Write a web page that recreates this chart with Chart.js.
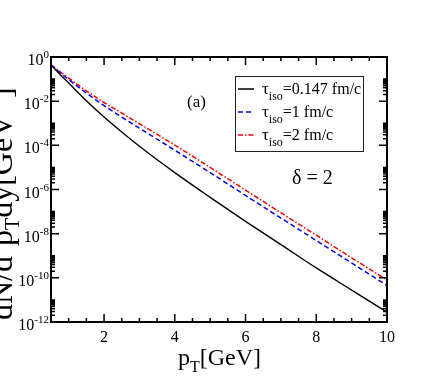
<!DOCTYPE html>
<html>
<head>
<meta charset="utf-8">
<script src="https://cdn.jsdelivr.net/npm/chart.js@4.4.0/dist/chart.umd.min.js"></script>
<style>
  html, body { margin: 0; padding: 0; background: #fff; }
  canvas { display: block; }
</style>
</head>
<body>
<canvas id="spectrum" width="436" height="382"></canvas>
<script>
var pT = [0.5, 0.75, 1, 1.5, 2, 2.5, 3, 4, 5, 6, 7, 8, 9, 10];
var tau0147 = [4.4e-1, 1.66e-1, 6.6e-2, 1.05e-2, 1.9e-3, 4.0e-4, 9.1e-5, 5.8e-6, 4.4e-7, 3.6e-8, 3.2e-9, 2.8e-10, 2.8e-11, 2.8e-12];
var tau1 = [4.4e-1, 2.0e-1, 9.5e-2, 2.34e-2, 6.3e-3, 1.9e-3, 6.0e-4, 6.0e-5, 5.8e-6, 5.4e-7, 5.1e-8, 4.9e-9, 4.7e-10, 4.5e-11];
var tau2 = [4.4e-1, 2.2e-1, 1.1e-1, 2.95e-2, 8.7e-3, 2.9e-3, 9.5e-4, 1.02e-4, 1.0e-5, 9.3e-7, 8.9e-8, 8.5e-9, 8.1e-10, 7.9e-11];
var legendValues = ['=0.147 fm/c', '=1 fm/c', '=2 fm/c'];
var xTicks = [2, 4, 6, 8, 10];
var xMinorTicks = [1, 1.5, 2.5, 3, 3.5, 4.5, 5, 5.5, 6.5, 7, 7.5, 8.5, 9, 9.5];
var yTicks = [1, 1e-2, 1e-4, 1e-6, 1e-8, 1e-10, 1e-12];
var yTickExp = ['0', '-2', '-4', '-6', '-8', '-10', '-12'];

var SERIF = "'Liberation Serif', 'Times New Roman', serif";

function toPoints(ys) {
  return pT.map(function (x, i) { return { x: x, y: ys[i] }; });
}

// draws text pieces one after another (for sub/superscripts)
function runs(ctx, x, y, parts) {
  parts.forEach(function (p) {
    ctx.font = p.size + 'px ' + SERIF;
    ctx.fillText(p.t, x, y + (p.dy || 0));
    x += ctx.measureText(p.t).width;
  });
  return x;
}

var decor = {
  id: 'decor',
  afterDraw: function (chart) {
    var ctx = chart.ctx, a = chart.chartArea;
    var xs = chart.scales.x, ys = chart.scales.y;
    ctx.save();
    ctx.fillStyle = '#000';
    ctx.strokeStyle = '#000';
    ctx.textAlign = 'left';
    ctx.textBaseline = 'alphabetic';

    // frame
    ctx.lineWidth = 2;
    ctx.strokeRect(a.left, a.top, a.right - a.left, a.bottom - a.top);

    // inward ticks
    ctx.lineWidth = 1.5;
    ctx.beginPath();
    xTicks.forEach(function (v) {
      var px = xs.getPixelForValue(v);
      ctx.moveTo(px, a.bottom); ctx.lineTo(px, a.bottom - 8);
      ctx.moveTo(px, a.top); ctx.lineTo(px, a.top + 8);
    });
    xMinorTicks.forEach(function (v) {
      var px = xs.getPixelForValue(v);
      ctx.moveTo(px, a.bottom); ctx.lineTo(px, a.bottom - 4);
      ctx.moveTo(px, a.top); ctx.lineTo(px, a.top + 4);
    });
    yTicks.forEach(function (v) {
      var py = ys.getPixelForValue(v);
      ctx.moveTo(a.left, py); ctx.lineTo(a.left + 8, py);
      ctx.moveTo(a.right, py); ctx.lineTo(a.right - 8, py);
    });
    for (var e = -12; e <= -2; e += 2) {
      for (var m = 2; m <= 10; m++) {
        var py = ys.getPixelForValue(m * Math.pow(10, e));
        ctx.moveTo(a.left, py); ctx.lineTo(a.left + 4, py);
        ctx.moveTo(a.right, py); ctx.lineTo(a.right - 4, py);
      }
    }
    ctx.stroke();

    // y tick labels 10^n
    yTicks.forEach(function (v, i) {
      var py = ys.getPixelForValue(v);
      ctx.font = '16px ' + SERIF;
      var w1 = ctx.measureText('10').width;
      ctx.font = '11px ' + SERIF;
      var w2 = ctx.measureText(yTickExp[i]).width;
      var x0 = a.left - 2 - w1 - w2;
      runs(ctx, x0, py + 8, [{ t: '10', size: 16 }, { t: yTickExp[i], size: 11, dy: -7 }]);
    });

    // axis titles
    runs(ctx, 178, 365, [{ t: 'p', size: 24 }, { t: 'T', size: 16, dy: 7 }, { t: '[GeV]', size: 24 }]);
    ctx.save();
    ctx.translate(12, 320);
    ctx.rotate(-Math.PI / 2);
    runs(ctx, 0, 0, [
      { t: 'dN/d', size: 32 }, { t: '2', size: 20, dy: -14 }, { t: 'p', size: 32 },
      { t: 'T', size: 20, dy: 7 }, { t: 'dy[GeV', size: 32 }, { t: '-2', size: 20, dy: -14 },
      { t: ']', size: 32 }
    ]);
    ctx.restore();

    // legend
    ctx.lineWidth = 1;
    ctx.strokeStyle = '#222';
    ctx.strokeRect(235.5, 76.5, 128, 75);
    chart.data.datasets.forEach(function (ds, i) {
      var cy = 89 + i * 23;
      ctx.save();
      ctx.strokeStyle = ds.borderColor;
      ctx.lineWidth = 1.5;
      ctx.setLineDash(ds.borderDash || []);
      ctx.beginPath();
      ctx.moveTo(238, cy); ctx.lineTo(254, cy);
      ctx.stroke();
      ctx.restore();
      runs(ctx, 262, cy + 5, [{ t: '\u03c4', size: 17 }, { t: 'iso', size: 12, dy: 6 }, { t: legendValues[i], size: 16 }]);
    });

    // annotations
    runs(ctx, 187, 107, [{ t: '(a)', size: 17 }]);
    runs(ctx, 292, 184, [{ t: '\u03b4 = 2', size: 20 }]);
    ctx.restore();
  }
};

new Chart(document.getElementById('spectrum').getContext('2d'), {
  type: 'line',
  data: {
    datasets: [{
      label: 'tau_iso=0.147 fm/c',
      data: toPoints(tau0147),
      borderColor: '#000000',
      borderWidth: 1.4,
      borderDash: []
    }, {
      label: 'tau_iso=1 fm/c',
      data: toPoints(tau1),
      borderColor: '#0000ff',
      borderWidth: 1.5,
      borderDash: [5, 3]
    }, {
      label: 'tau_iso=2 fm/c',
      data: toPoints(tau2),
      borderColor: '#ff0000',
      borderWidth: 1.5,
      borderDash: [5, 2, 1.5, 2]
    }]
  },
  options: {
    responsive: false,
    animation: false,
    devicePixelRatio: 1,
    cubicInterpolationMode: 'monotone',
    elements: { point: { radius: 0 } },
    layout: { padding: { top: 57, right: 49, left: 0, bottom: 0 } },
    plugins: { legend: { display: false }, tooltip: { enabled: false } },
    scales: {
      x: {
        type: 'linear',
        min: 0.5,
        max: 10,
        afterBuildTicks: function (s) { s.ticks = xTicks.map(function (v) { return { value: v }; }); },
        afterFit: function (s) { s.height = 60; },
        grid: { display: false, drawTicks: false },
        border: { display: false },
        ticks: { padding: 6, color: '#000', font: { family: SERIF, size: 16 }, maxRotation: 0 }
      },
      y: {
        type: 'logarithmic',
        min: 1e-12,
        max: 1,
        afterFit: function (s) { s.width = 51; },
        grid: { display: false, drawTicks: false },
        border: { display: false },
        ticks: { display: false }
      }
    }
  },
  plugins: [decor]
});
</script>
</body>
</html>
